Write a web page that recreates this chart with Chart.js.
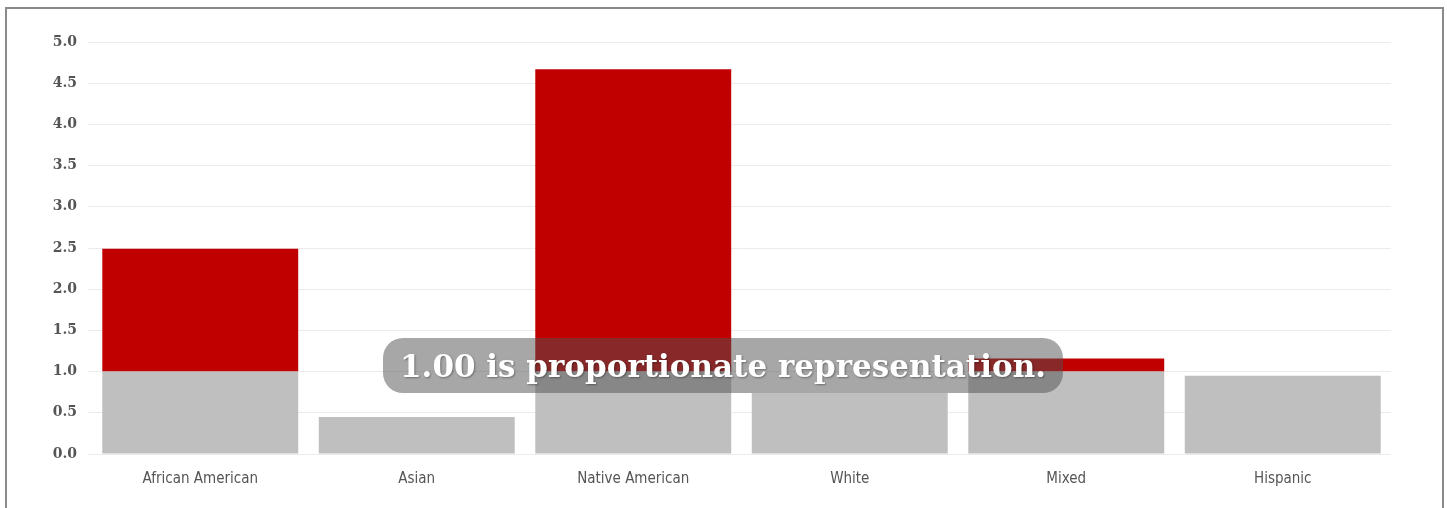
<!DOCTYPE html>
<html>
<head>
<meta charset="utf-8">
<script src="https://cdn.jsdelivr.net/npm/chart.js@4/dist/chart.umd.min.js"></script>
<style>
  html, body { margin: 0; padding: 0; background: #fff; }
  #frame {
    position: absolute; left: 5px; top: 7px; width: 1439px; height: 520px;
    border: 2px solid #8a8a8a; box-sizing: border-box; border-bottom: none;
  }
  #wrap { position: absolute; left: 0; top: 0; width: 1447px; height: 508px; }
  #note {
    position: absolute; left: 383px; top: 338px; width: 680px; height: 55px;
    border-radius: 20px; background: rgba(80, 80, 80, 0.5);
    color: #fff; font: bold 31px "DejaVu Serif", "Liberation Serif", serif;
    line-height: 56px; text-align: center; white-space: nowrap;
    text-shadow: 1px 1px 2px rgba(0, 0, 0, 0.35);
  }
</style>
</head>
<body>
<div id="frame"></div>
<div id="wrap"><canvas id="ratioChart"></canvas></div>
<div id="note">1.00 is proportionate representation.</div>
<script>
// Representation ratio per group (1.00 = proportionate)
const groups = ['African American', 'Asian', 'Native American', 'White', 'Mixed', 'Hispanic'];
const ratios = [2.49, 0.45, 4.67, 0.74, 1.16, 0.95];
const yTicks = [0, 0.5, 1, 1.5, 2, 2.5, 3, 3.5, 4, 4.5, 5];

// Gray part up to 1.00, red part for anything above it
const baseShare = ratios.map(v => Math.min(v, 1));
const overShare = ratios.map(v => Math.max(v - 1, 0));

const ctx = document.getElementById('ratioChart').getContext('2d');
new Chart(ctx, {
  type: 'bar',
  data: {
    labels: groups,
    datasets: [
      { label: 'Proportionate', data: baseShare, backgroundColor: '#bfbfbf', borderWidth: 0 },
      { label: 'Over-represented', data: overShare, backgroundColor: '#c00000', borderWidth: 0 }
    ]
  },
  options: {
    responsive: true,
    maintainAspectRatio: false,
    animation: false,
    layout: { padding: { top: 42, right: 56, left: 0, bottom: 0 } },
    plugins: { legend: { display: false }, tooltip: { enabled: false } },
    datasets: { bar: { categoryPercentage: 1, barPercentage: 0.905 } },
    scales: {
      x: {
        stacked: true,
        grid: { display: false },
        border: { display: false },
        ticks: {
          color: '#555',
          padding: 8,
          font: { family: '"Liberation Sans Narrow", "DejaVu Sans Condensed", sans-serif', size: 15 }
        },
        afterFit: scale => { scale.height = 54; }
      },
      y: {
        stacked: true,
        min: 0,
        max: 5,
        afterBuildTicks: scale => { scale.ticks = yTicks.map(v => ({ value: v })); },
        grid: { color: '#ebebeb', lineWidth: 1, tickLength: 4 },
        border: { display: false },
        ticks: {
          color: '#555',
          padding: 11,
          font: { family: '"DejaVu Serif", serif', size: 14, weight: 'bold' },
          callback: v => Number(v).toFixed(1)
        },
        afterFit: scale => { scale.width = 92; }
      }
    }
  }
});
</script>
</body>
</html>
